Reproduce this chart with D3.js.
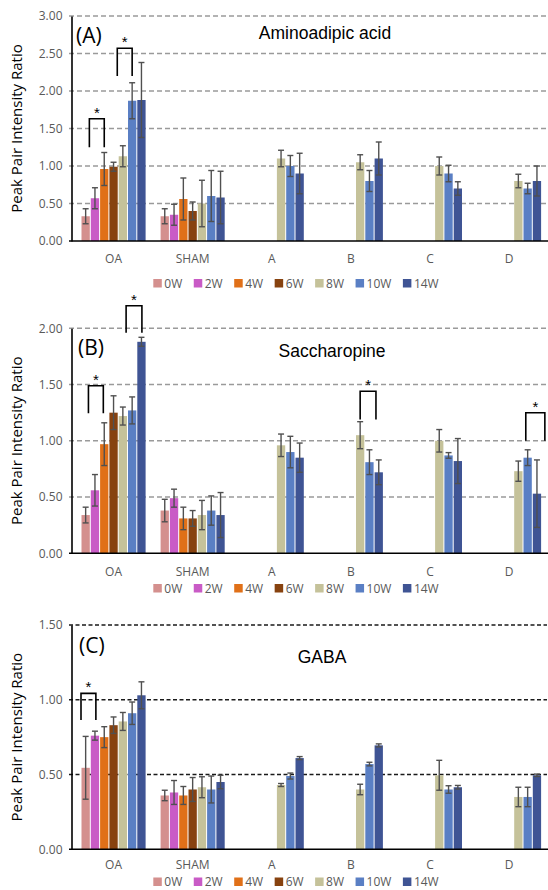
<!DOCTYPE html>
<html><head><meta charset="utf-8">
<script src="https://cdn.jsdelivr.net/npm/d3@7"></script>
<style>
html,body{margin:0;padding:0;background:#fff;}
svg{display:block;}
</style></head>
<body>
<svg id="chart" width="548" height="890"></svg>
<script>
// ---------------- DATA ----------------
const categories = ["OA", "SHAM", "A", "B", "C", "D"];
const series = ["0W", "2W", "4W", "6W", "8W", "10W", "14W"];

// Panel A: Aminoadipic acid (mean per category, per series)
const aminoadipicMeans = [
  [0.33, 0.57, 0.96, 0.99, 1.13, 1.87, 1.88],
  [0.33, 0.35, 0.56, 0.40, 0.50, 0.60, 0.58],
  [null, null, null, null, 1.10, 1.00, 0.90],
  [null, null, null, null, 1.05, 0.80, 1.10],
  [null, null, null, null, 1.00, 0.90, 0.70],
  [null, null, null, null, 0.80, 0.70, 0.80]
];
const aminoadipicErrors = [
  [0.10, 0.14, 0.22, 0.06, 0.14, 0.24, 0.50],
  [0.10, 0.14, 0.28, 0.12, 0.31, 0.34, 0.35],
  [null, null, null, null, 0.11, 0.14, 0.27],
  [null, null, null, null, 0.10, 0.14, 0.22],
  [null, null, null, null, 0.12, 0.11, 0.09],
  [null, null, null, null, 0.09, 0.07, 0.20]
];

// Panel B: Saccharopine
const saccharopineMeans = [
  [0.34, 0.56, 0.97, 1.25, 1.22, 1.27, 1.88],
  [0.38, 0.49, 0.31, 0.31, 0.34, 0.38, 0.34],
  [null, null, null, null, 0.96, 0.90, 0.85],
  [null, null, null, null, 1.05, 0.81, 0.72],
  [null, null, null, null, 1.00, 0.87, 0.82],
  [null, null, null, null, 0.73, 0.85, 0.53]
];
const saccharopineErrors = [
  [0.07, 0.14, 0.19, 0.15, 0.08, 0.12, 0.04],
  [0.10, 0.08, 0.10, 0.07, 0.13, 0.13, 0.20],
  [null, null, null, null, 0.10, 0.14, 0.13],
  [null, null, null, null, 0.12, 0.11, 0.11],
  [null, null, null, null, 0.10, 0.025, 0.20],
  [null, null, null, null, 0.09, 0.07, 0.30]
];

// Panel C: GABA
const gabaMeans = [
  [0.545, 0.76, 0.75, 0.83, 0.855, 0.91, 1.03],
  [0.36, 0.38, 0.36, 0.40, 0.415, 0.40, 0.45],
  [null, null, null, null, 0.43, 0.49, 0.61],
  [null, null, null, null, 0.40, 0.57, 0.695],
  [null, null, null, null, 0.495, 0.40, 0.415],
  [null, null, null, null, 0.35, 0.35, 0.495]
];
const gabaErrors = [
  [0.21, 0.03, 0.07, 0.055, 0.06, 0.075, 0.09],
  [0.035, 0.08, 0.06, 0.08, 0.07, 0.09, 0.045],
  [null, null, null, null, 0.01, 0.02, 0.01],
  [null, null, null, null, 0.035, 0.012, 0.01],
  [null, null, null, null, 0.10, 0.025, 0.012],
  [null, null, null, null, 0.065, 0.065, 0.008]
];

// y-axis tick values
const ticksA = [0, 0.5, 1.0, 1.5, 2.0, 2.5, 3.0];
const ticksB = [0, 0.5, 1.0, 1.5, 2.0];
const ticksC = [0, 0.5, 1.0, 1.5];

// significance brackets: category, from/to series position, top and leg-bottom values
const bracketsA = [
  {cat: "OA", from: 0.4, to: 2.0, top: 1.63, bottom: 1.25},
  {cat: "OA", from: 3.4, to: 5.0, top: 2.57, bottom: 2.20}
];
const bracketsB = [
  {cat: "OA", from: 0.3, to: 1.9, top: 1.49, bottom: 1.245},
  {cat: "OA", from: 4.35, to: 6.05, top: 2.20, bottom: 1.96},
  {cat: "B", from: 4.0, to: 5.7, top: 1.44, bottom: 1.19},
  {cat: "D", from: 4.8, to: 6.85, top: 1.25, bottom: 1.0}
];
const bracketsC = [
  {cat: "OA", from: -0.5, to: 1.1, top: 1.043, bottom: 0.865}
];

// ---------------- STYLE / LAYOUT ----------------
const colors = ["#d4908e", "#c95bc6", "#e07018", "#87420f", "#c5c29a", "#5a7fc4", "#3f5494"];
const panels = [
  {label: "(A)", title: "Aminoadipic acid", means: aminoadipicMeans, errors: aminoadipicErrors,
   ticks: ticksA, brackets: bracketsA, top: 16, bottom: 241, catY: 263, legY: 283,
   titleX: 325, titleY: 39, labX: 76, labY: 43, grid: "#9a9a9a", dash: "5,3"},
  {label: "(B)", title: "Saccharopine", means: saccharopineMeans, errors: saccharopineErrors,
   ticks: ticksB, brackets: bracketsB, top: 328.3, bottom: 553.3, catY: 576, legY: 588,
   titleX: 332, titleY: 357, labX: 78, labY: 355, grid: "#9a9a9a", dash: "5,3"},
  {label: "(C)", title: "GABA", means: gabaMeans, errors: gabaErrors,
   ticks: ticksC, brackets: bracketsC, top: 625, bottom: 849.3, catY: 869, legY: 881.5,
   titleX: 322, titleY: 663, labX: 79, labY: 653, grid: "#1a1a1a", dash: "4,2.5"}
];

const svg = d3.select("#chart");
const axisX = 71.5;
const x0 = d3.scaleBand().domain(categories).range([74, 548.6]).paddingInner(0).paddingOuter(0);
const groupW = 65.1;
const x1 = d3.scaleBand().domain(series).range([-groupW / 2, groupW / 2]);
const step = x1.step();
const posX = (cat, p) => x0(cat) + x0.bandwidth() / 2 - groupW / 2 + (p + 0.5) * step;

panels.forEach(P => {
  const g = svg.append("g");
  const yMax = P.ticks[P.ticks.length - 1];
  const y = d3.scaleLinear().domain([0, yMax]).range([P.bottom, P.top]);

  // gridlines
  g.selectAll(".grid").data(P.ticks.filter(t => t > 0)).enter().append("line")
    .attr("x1", 69).attr("x2", 547)
    .attr("y1", d => y(d)).attr("y2", d => y(d))
    .attr("stroke", P.grid).attr("stroke-width", 1.4).attr("stroke-dasharray", P.dash);

  // y axis via d3.axisLeft
  const yAxis = d3.axisLeft(y).tickValues(P.ticks).tickFormat(d3.format(".2f")).tickSize(0).tickPadding(9);
  const ya = g.append("g").attr("transform", `translate(${axisX},0)`).call(yAxis);
  ya.select(".domain").attr("stroke", "#000").attr("stroke-width", 1.6);
  ya.selectAll("text").attr("font-family", "'Open Sans', sans-serif").attr("font-size", 12)
    .attr("fill", "#595959");

  // bars
  P.means.forEach((row, ci) => {
    const cat = categories[ci];
    row.forEach((v, si) => {
      if (v == null) return;
      const cx = posX(cat, si);
      g.append("rect")
        .attr("x", cx - step / 2 + 0.5).attr("width", step - 1)
        .attr("y", y(v)).attr("height", y(0) - y(v))
        .attr("fill", colors[si]);
    });
  });
  // error bars
  P.means.forEach((row, ci) => {
    const cat = categories[ci];
    row.forEach((v, si) => {
      if (v == null) return;
      const e = P.errors[ci][si];
      const cx = posX(cat, si);
      const lo = y(Math.max(0, v - e)), hi = y(v + e);
      const eg = g.append("g").attr("stroke", "#505050").attr("stroke-width", 1.4);
      eg.append("line").attr("x1", cx).attr("x2", cx).attr("y1", lo).attr("y2", hi);
      eg.append("line").attr("x1", cx - 3).attr("x2", cx + 3).attr("y1", lo).attr("y2", lo);
      eg.append("line").attr("x1", cx - 3).attr("x2", cx + 3).attr("y1", hi).attr("y2", hi);
    });
  });

  // x axis line
  g.append("line").attr("x1", 69).attr("x2", 548).attr("y1", y(0)).attr("y2", y(0))
    .attr("stroke", "#000").attr("stroke-width", 1.6);

  // category labels
  g.selectAll(".cat").data(categories).enter().append("text")
    .attr("x", d => x0(d) + x0.bandwidth() / 2).attr("y", P.catY)
    .attr("text-anchor", "middle").attr("font-family", "'Open Sans', sans-serif")
    .attr("font-size", 12).attr("fill", "#595959").text(d => d);

  // y label
  g.append("text").attr("transform", `translate(22,${(P.top + P.bottom) / 2}) rotate(-90)`)
    .attr("text-anchor", "middle").attr("font-family", "'Open Sans', sans-serif")
    .attr("font-size", 15).attr("fill", "#000").text("Peak Pair Intensity Ratio");

  // panel label and title
  g.append("text").attr("x", P.labX).attr("y", P.labY).attr("font-family", "'Open Sans', sans-serif")
    .attr("font-size", 21).attr("fill", "#000").text(P.label);
  g.append("text").attr("x", P.titleX).attr("y", P.titleY).attr("text-anchor", "middle")
    .attr("font-family", "'Liberation Sans', Arial, sans-serif").attr("font-size", 17.5)
    .attr("fill", "#000").text(P.title);

  // brackets
  P.brackets.forEach(b => {
    const xa = posX(b.cat, b.from), xb = posX(b.cat, b.to);
    g.append("path")
      .attr("d", `M${xa},${y(b.bottom)}V${y(b.top)}H${xb}V${y(b.bottom)}`)
      .attr("fill", "none").attr("stroke", "#000").attr("stroke-width", 1.6);
    g.append("text").attr("x", (xa + xb) / 2).attr("y", y(b.top) - 1)
      .attr("text-anchor", "middle").attr("font-family", "'Liberation Sans', Arial, sans-serif")
      .attr("font-size", 15).attr("fill", "#000").text("*");
  });

  // legend
  const lg = g.append("g");
  let cx = 0;
  series.forEach((s, i) => {
    const it = lg.append("g").attr("transform", `translate(${cx},0)`);
    it.append("rect").attr("x", 0).attr("y", -8.5).attr("width", 8.5).attr("height", 8.5).attr("fill", colors[i]);
    const t = it.append("text").attr("x", 11).attr("y", 0).attr("font-family", "'Open Sans', sans-serif")
      .attr("font-size", 12).attr("fill", "#595959").text(s);
    cx += 11 + t.node().getComputedTextLength() + 11.5;
  });
  const totalW = cx - 11.5;
  lg.attr("transform", `translate(${296 - totalW / 2},${P.legY + 4.5})`);
});
</script>
</body></html>
